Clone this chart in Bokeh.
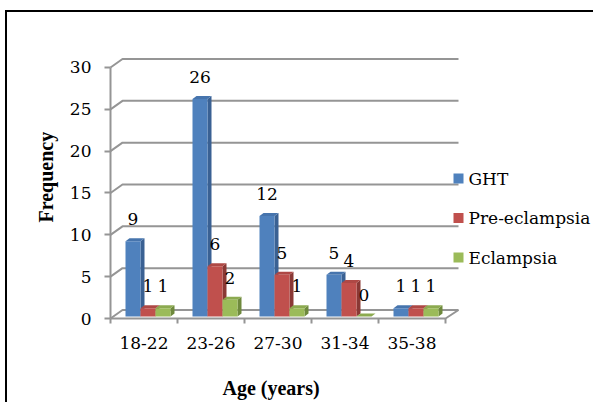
from bokeh.plotting import figure
from bokeh.models import Range1d, FixedTicker, Title
from bokeh.embed import file_html
from bokeh.resources import INLINE
from bokeh.core.properties import value

# ---------------- data ----------------
categories = ["18-22", "23-26", "27-30", "31-34", "35-38"]
series = ["GHT", "Pre-eclampsia", "Eclampsia"]
ght = [9, 26, 12, 5, 1]
pre_eclampsia = [1, 6, 5, 4, 1]
eclampsia = [1, 2, 1, 0, 1]
y_ticks = [0, 5, 10, 15, 20, 25, 30]

front_colors = ["#4F81BD", "#C0504D", "#9BBB59"]
top_colors = ["#4674AD", "#AE4845", "#8CAA50"]
side_colors = ["#3A6193", "#8A3835", "#6E893D"]
grid_color = "#959595"
FONT_BOLD = "Liberation Serif"
FONT = "DejaVu Serif"
FS = "17px"

values = [ght, pre_eclampsia, eclampsia]

# ---------------- geometry (canvas pixels) ----------------
W, H = 593, 402
X0_PX, Y0_PX = 110.0, 318.0      # data origin on the canvas
SX, SY = 67.0, 8.367             # px per data unit
FRAME_L, FRAME_R, FRAME_T, FRAME_B = 108, W, 0, 320


def dx(px):
    return px / SX


def dy(px):
    return px / SY


def X(px):
    return (px - X0_PX) / SX


def Y(py):
    return (Y0_PX - py) / SY


p = figure(width=W, height=H,
           x_range=Range1d(X(FRAME_L), X(FRAME_R)),
           y_range=Range1d(Y(FRAME_B), Y(FRAME_T)),
           output_backend="svg", toolbar_location=None,
           min_border_left=FRAME_L, min_border_right=0,
           min_border_top=0, min_border_bottom=H - FRAME_B)
p.grid.visible = False
p.outline_line_color = None
p.background_fill_color = None
p.border_fill_color = None
# outer chart border (left and top edges; the others lie outside the picture)
p.styles = {"box-shadow": "inset 5px 10px 0 0 white, inset 7px 12px 0 0 black",
            "background-color": "white"}

# y axis
ya = p.yaxis[0]
ya.ticker = FixedTicker(ticks=y_ticks)
ya.axis_line_color = None
ya.major_tick_line_color = grid_color
ya.major_tick_line_width = 2
ya.major_tick_in = 2
ya.major_tick_out = 4
ya.minor_tick_line_color = None
ya.major_label_text_font = FONT
ya.major_label_text_font_size = FS
ya.major_label_text_color = "black"
ya.major_label_standoff = 13

# x axis
ncat = len(categories)
xa = p.xaxis[0]
xa.ticker = FixedTicker(ticks=[i + 0.5 for i in range(ncat)],
                        minor_ticks=list(range(ncat + 1)))
xa.major_label_overrides = {i + 0.5: c for i, c in enumerate(categories)}
xa.axis_line_color = None
xa.major_tick_line_color = None
xa.minor_tick_line_color = grid_color
xa.minor_tick_line_width = 2
xa.minor_tick_in = 2
xa.minor_tick_out = 3
xa.major_label_text_font = FONT
xa.major_label_text_font_size = FS
xa.major_label_text_color = "black"
xa.major_label_standoff = 10
# invisible spacer label so that the title below sits at the right height
xa.axis_label = " "
xa.axis_label_text_font_size = "17px"
xa.axis_label_standoff = 1

# axis titles
p.add_layout(Title(text="Age (years)", align="left", offset=114,
                   vertical_align="bottom", standoff=0,
                   text_font=FONT_BOLD, text_font_size="20px",
                   text_font_style="bold", text_color="black"), "below")
p.add_layout(Title(text="Frequency", align="left", offset=98,
                   vertical_align="bottom", standoff=20,
                   text_font=FONT_BOLD, text_font_size="20px",
                   text_font_style="bold", text_color="black"), "left")

# ---------------- walls / gridlines ----------------
WDX, WDY = 12, 8.5
back_r = ncat + dx(13)
gx, gy = [], []
for v in y_ticks:
    gx.append([0, dx(WDX), back_r])
    gy.append([v, v + dy(WDY), v + dy(WDY)])
p.multi_line(gx, gy, line_color=grid_color, line_width=2)
# floor front edge + right edge, front vertical axis
p.multi_line([[0, ncat, back_r], [0, 0]],
             [[0, 0, dy(WDY)], [0, y_ticks[-1]]],
             line_color=grid_color, line_width=2)

# ---------------- bars ----------------
BW, BX, BDX, BDY, BASE = 15, 15, 4, 3, dy(2)
side_xs, side_ys, side_c = [], [], []
top_xs, top_ys, top_c = [], [], []
fl, fr, fb, ft, fc = [], [], [], [], []
lx, ly, lt = [], [], []
for i in range(ncat):
    for k in range(len(series)):
        v = values[k][i]
        x0 = i + dx(BX + BW * k)
        x1 = x0 + dx(BW)
        t = BASE + v
        side_xs.append([x1, x1, x1 + dx(BDX), x1 + dx(BDX)])
        side_ys.append([BASE, t, t + dy(BDY), BASE + dy(BDY)])
        side_c.append(side_colors[k])
        top_xs.append([x0, x0 + dx(BDX), x1 + dx(BDX), x1])
        top_ys.append([t, t + dy(BDY), t + dy(BDY), t])
        top_c.append(top_colors[k])
        fl.append(x0); fr.append(x1); fb.append(BASE); ft.append(t)
        fc.append(front_colors[k])
        lx.append((x0 + x1) / 2); ly.append(t + dy(22)); lt.append(str(v))

p.patches(side_xs, side_ys, fill_color=side_c, line_color=None)
p.patches(top_xs, top_ys, fill_color=top_c, line_color=None)
p.quad(left=fl, right=fr, bottom=fb, top=ft, fill_color=fc, line_color=None)
p.text(x=lx, y=ly, text=lt, text_align="center", text_baseline="middle",
       text_font=value(FONT), text_font_size=FS, text_color="black")

# ---------------- legend ----------------
leg_centers = [178, 217.5, 257]
p.quad(left=[X(453)] * 3, right=[X(463)] * 3,
       bottom=[Y(c + 5) for c in leg_centers],
       top=[Y(c - 5) for c in leg_centers],
       fill_color=front_colors, line_color=None)
p.text(x=[X(468)] * 3, y=[Y(c) for c in leg_centers], text=series,
       text_align="left", text_baseline="middle",
       text_font=value(FONT), text_font_size=FS, text_color="black")

open("out.html", "w").write(file_html(p, INLINE))
